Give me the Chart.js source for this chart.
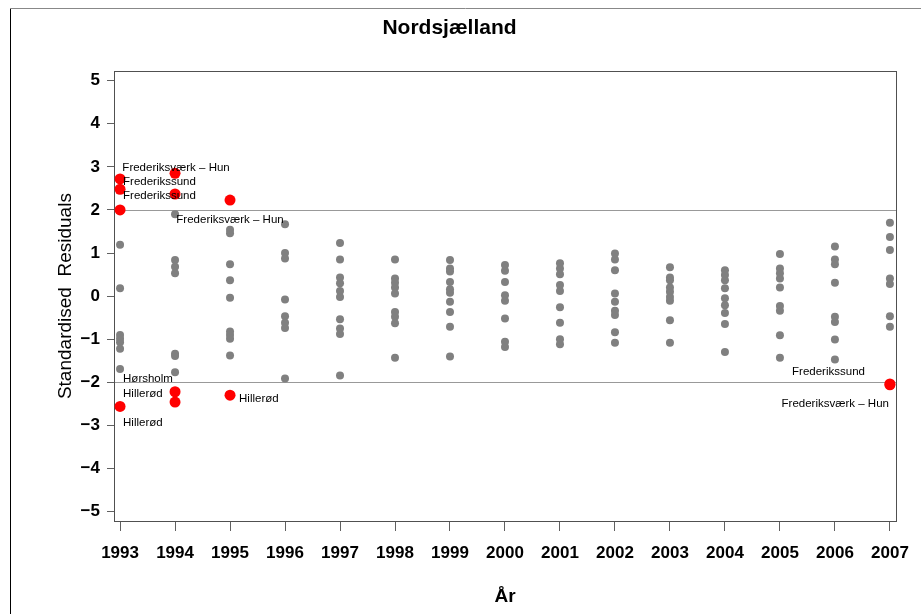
<!DOCTYPE html>
<html>
<head>
<meta charset="utf-8">
<script src="https://cdn.jsdelivr.net/npm/chart.js@4"></script>
<style>
  html, body { margin: 0; padding: 0; background: #fff; }
</style>
</head>
<body>
<canvas id="residChart" width="921" height="614"></canvas>
<script>
// Years on the x axis
const years = [1993, 1994, 1995, 1996, 1997, 1998, 1999, 2000, 2001, 2002, 2003, 2004, 2005, 2006, 2007];

// Standardised residuals per year (grey, inside +-2)
const residuals = [
    [1.19, 0.18, -0.90, -0.99, -1.07, -1.22, -1.69],              // 1993
    [1.90, 0.84, 0.68, 0.53, -1.34, -1.39, -1.77],                // 1994
    [1.54, 1.46, 0.74, 0.37, -0.04, -0.82, -0.90, -0.99, -1.38],  // 1995
    [1.67, 1.00, 0.87, -0.08, -0.47, -0.62, -0.74, -1.91],        // 1996
    [1.23, 0.85, 0.43, 0.30, 0.12, -0.02, -0.54, -0.75, -0.88, -1.84], // 1997
    [0.85, 0.41, 0.31, 0.20, 0.06, -0.37, -0.48, -0.63, -1.43],   // 1998
    [0.84, 0.64, 0.57, 0.33, 0.16, 0.08, -0.13, -0.37, -0.71, -1.40], // 1999
    [0.72, 0.59, 0.33, 0.02, -0.11, -0.52, -1.06, -1.18],         // 2000
    [0.76, 0.64, 0.51, 0.26, 0.12, -0.26, -0.62, -1.00, -1.12],   // 2001
    [0.99, 0.85, 0.60, 0.06, -0.13, -0.34, -0.44, -0.84, -1.08],  // 2002
    [0.67, 0.43, 0.37, 0.20, 0.10, -0.02, -0.11, -0.56, -1.08],   // 2003
    [0.60, 0.49, 0.37, 0.18, -0.05, -0.21, -0.39, -0.65, -1.30],  // 2004
    [0.98, 0.64, 0.53, 0.41, 0.20, -0.23, -0.34, -0.91, -1.43],   // 2005
    [1.15, 0.85, 0.74, 0.31, -0.48, -0.60, -1.01, -1.47],         // 2006
    [1.70, 1.37, 1.07, 0.41, 0.28, -0.47, -0.71]                  // 2007
];

// Outliers (red)
const outlierYears = [1993, 1993, 1993, 1993, 1994, 1994, 1994, 1994, 1995, 1995, 2007, 2007];
const outlierValues = [2.72, 2.48, 2.00, -2.56, 2.85, 2.37, -2.22, -2.46, 2.23, -2.30, -2.04, -2.06];

// Point labels: text and which outlier they belong to
const labelTexts = ['Frederiksværk – Hun', 'Frederikssund', 'Frederikssund', 'Frederiksværk – Hun',
    'Hørsholm', 'Hillerød', 'Hillerød', 'Hillerød', 'Frederikssund', 'Frederiksværk – Hun'];
const labelPoint = [4, 0, 1, 8, 3, 3, 3, 9, 10, 11];

// Reference lines and tick values
const refLines = [2, -2];
const yTicks = [-5, -4, -3, -2, -1, 0, 1, 2, 3, 4, 5];

// Label placement (pixel offsets from the point)
const labelPlace = [
    { align: 'center', dx: 1, dy: -5 },
    { align: 'left', dx: 3, dy: 3 },
    { align: 'left', dx: 3, dy: 7 },
    { align: 'center', dx: 0, dy: 20 },
    { align: 'left', dx: 3, dy: -28 },
    { align: 'left', dx: 3, dy: -13 },
    { align: 'left', dx: 3, dy: 16 },
    { align: 'left', dx: 9, dy: 4 },
    { align: 'right', dx: -25, dy: -12 },
    { align: 'right', dx: -1, dy: 19 }
];

const FONT = "'Liberation Sans', Arial, Helvetica, sans-serif";

const greyPoints = [];
years.forEach((yr, i) => residuals[i].forEach(v => greyPoints.push({ x: yr, y: v })));
const redPoints = outlierYears.map((yr, i) => ({ x: yr, y: outlierValues[i] }));

// Frame, reference lines, outer border and point labels
const decorPlugin = {
    id: 'decor',
    beforeDraw(chart) {
        const ctx = chart.ctx;
        ctx.save();
        ctx.lineWidth = 1;
        ctx.strokeStyle = '#000';
        ctx.beginPath();
        ctx.moveTo(10.5, 8);
        ctx.lineTo(10.5, 614);
        ctx.stroke();
        ctx.strokeStyle = '#888';
        ctx.beginPath();
        ctx.moveTo(10, 8.5);
        ctx.lineTo(921, 8.5);
        ctx.stroke();
        ctx.restore();
    },
    beforeDatasetsDraw(chart) {
        const { ctx, chartArea, scales } = chart;
        ctx.save();
        ctx.lineWidth = 1;
        ctx.strokeStyle = '#999';
        refLines.forEach(v => {
            const y = Math.round(scales.y.getPixelForValue(v)) + 0.5;
            ctx.beginPath();
            ctx.moveTo(chartArea.left, y);
            ctx.lineTo(chartArea.right, y);
            ctx.stroke();
        });
        ctx.strokeStyle = '#505050';
        ctx.strokeRect(Math.round(chartArea.left) + 0.5, Math.round(chartArea.top) + 0.5,
            Math.round(chartArea.right - chartArea.left), Math.round(chartArea.bottom - chartArea.top));
        ctx.restore();
    },
    afterDatasetsDraw(chart) {
        const { ctx, scales } = chart;
        ctx.save();
        ctx.fillStyle = '#000';
        ctx.font = '11.5px ' + FONT;
        ctx.textBaseline = 'middle';
        labelTexts.forEach((txt, i) => {
            const p = labelPoint[i];
            const place = labelPlace[i];
            const x = scales.x.getPixelForValue(outlierYears[p]) + place.dx;
            const y = scales.y.getPixelForValue(outlierValues[p]) + place.dy;
            ctx.textAlign = place.align;
            ctx.fillText(txt, x, y);
        });
        ctx.restore();
    }
};

new Chart(document.getElementById('residChart').getContext('2d'), {
    type: 'scatter',
    data: {
        datasets: [
            { data: greyPoints, backgroundColor: '#808080', borderWidth: 0, pointRadius: 4 },
            { data: redPoints, backgroundColor: '#ff0000', borderWidth: 0, pointRadius: 5.5 }
        ]
    },
    options: {
        responsive: false,
        animation: false,
        layout: { padding: { left: 0, right: 22, top: 0, bottom: 0 } },
        plugins: {
            legend: { display: false },
            tooltip: { enabled: false },
            title: {
                display: true,
                text: 'Nordsjælland',
                color: '#000',
                font: { family: FONT, size: 21, weight: 'bold' },
                padding: { top: 16, bottom: 30 }
            }
        },
        scales: {
            x: {
                type: 'linear',
                min: 1992.89,
                max: 2007.11,
                afterBuildTicks: s => { s.ticks = years.map(v => ({ value: v })); },
                afterFit: s => { s.height = 93; },
                ticks: {
                    color: '#000',
                    font: { family: FONT, size: 17, weight: 'bold' },
                    padding: 12,
                    maxRotation: 0,
                    callback: v => String(v)
                },
                grid: { drawOnChartArea: false, drawTicks: true, tickLength: 10, color: '#606060' },
                border: { display: false },
                title: {
                    display: true,
                    text: 'År',
                    color: '#000',
                    font: { family: FONT, size: 19, weight: 'bold' },
                    padding: { top: 0, bottom: 6 }
                }
            },
            y: {
                type: 'linear',
                min: -5.22,
                max: 5.22,
                afterBuildTicks: s => { s.ticks = yTicks.map(v => ({ value: v })); },
                afterFit: s => { s.width = 114; },
                ticks: {
                    color: '#000',
                    font: { family: FONT, size: 17, weight: 'bold' },
                    padding: 7,
                    callback: v => (v < 0 ? '\u2212' + Math.abs(v) : String(v))
                },
                grid: { drawOnChartArea: false, drawTicks: true, tickLength: 7, color: '#606060' },
                border: { display: false },
                title: {
                    display: true,
                    text: 'Standardised  Residuals',
                    color: '#000',
                    font: { family: FONT, size: 19 },
                    padding: { top: 54, bottom: 0 }
                }
            }
        }
    },
    plugins: [decorPlugin]
});
</script>
</body>
</html>
